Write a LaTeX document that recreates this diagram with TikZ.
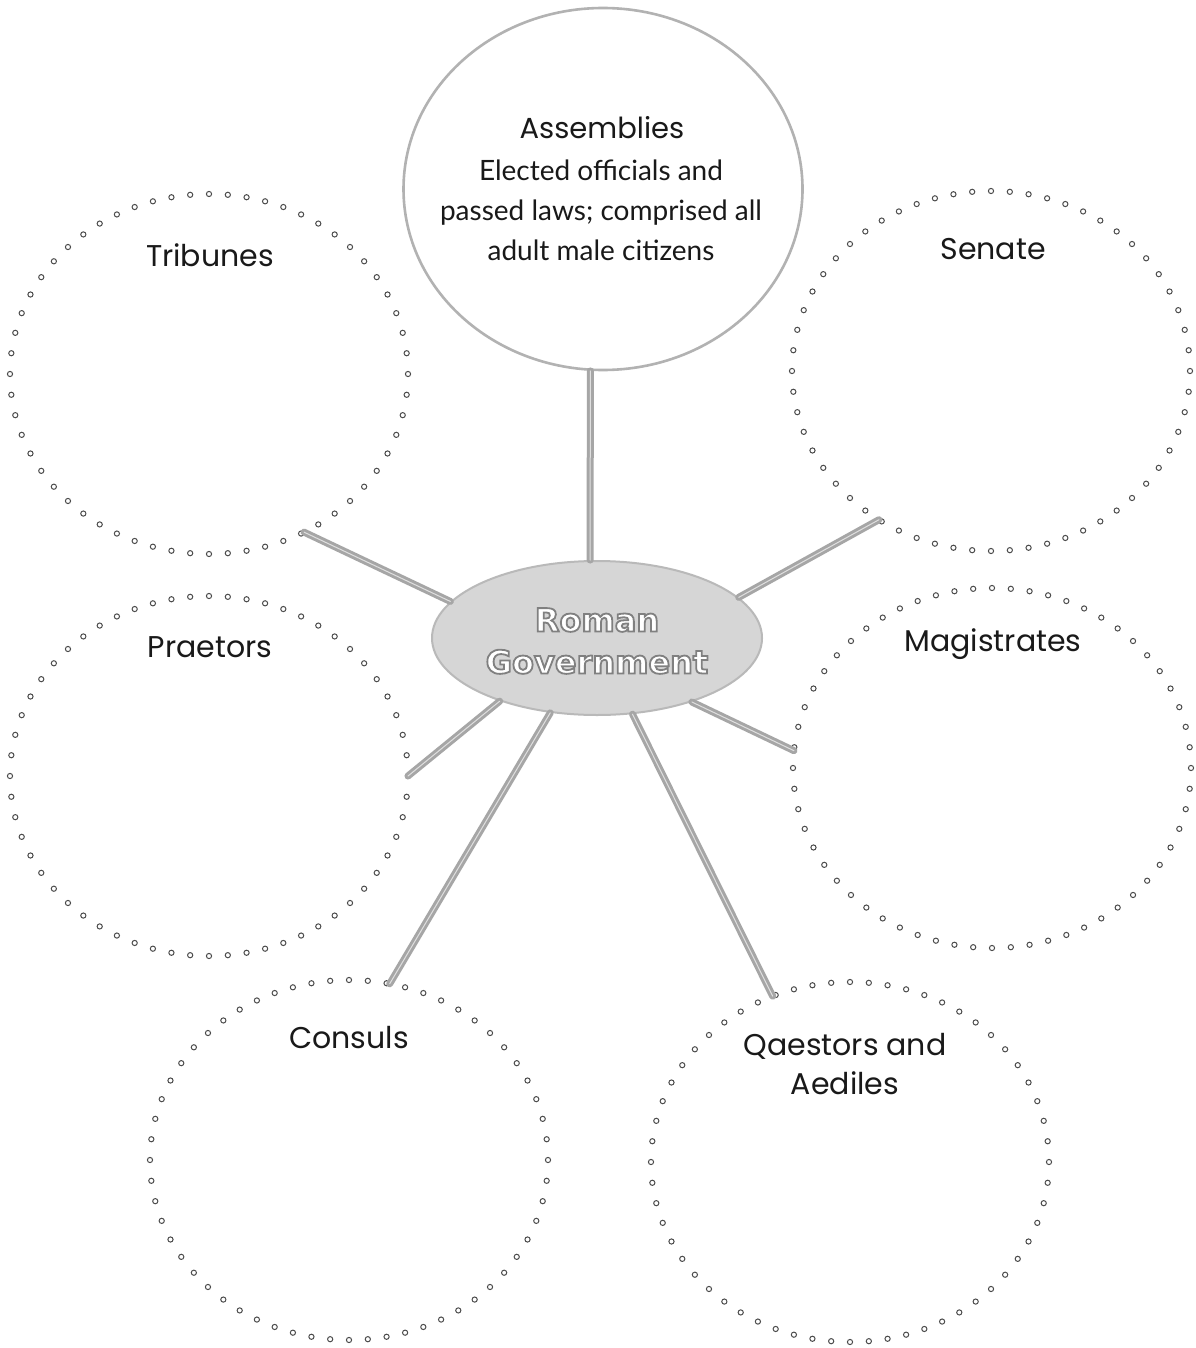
\documentclass[tikz,border=0pt]{standalone}
\usepackage{fontspec}
\setmainfont{Lato}
\newfontfamily\titlefont{Poppins}
\newfontfamily\govfont{DejaVu Sans}
\newcommand\outlinetext[1]{\special{pdf:literal direct 2 Tr 0.9 w 0.5 G}#1\special{pdf:literal direct 0 Tr}}
\usetikzlibrary{shapes.geometric}
\begin{document}
\begin{tikzpicture}[x=0.5pt,y=-0.5pt,
  zone/.style={ellipse, draw=none, inner sep=0pt, outer sep=0pt, minimum width=199pt, minimum height=180pt},
  dotmark/.style={draw=black!70, line width=0.5pt, fill=white},
  link/.style={draw=gray!70, line width=1.5pt, double=gray!25, double distance=0.5pt, line cap=round},
  title/.style={font=\titlefont\fontsize{15}{18}\selectfont, text=black!90, align=center, inner sep=0pt},
  body/.style={font=\fontsize{14}{20}\selectfont, text=black!90, align=center, inner sep=0pt}]
\useasboundingbox (0,0) rectangle (1195,1348);
\fill[white] (0,0) rectangle (1195,1348);
% outer dotted zones
\node[zone] (trib) at (209,374) {};
\node[zone] (sen) at (991,371) {};
\node[zone] (prae) at (209,776) {};
\node[zone] (mag) at (992,768) {};
\node[zone] (cons) at (349,1160) {};
\node[zone] (qae) at (850,1162) {};
\foreach \n in {trib,sen,prae,mag,cons,qae}{
  \foreach \a in {0,6,...,354}{
    \draw[dotmark] (\n.\a) circle[radius=1.3pt];
  }
}
% assemblies and centre
\node[ellipse, draw=gray!60, line width=1.3pt, fill=white, inner sep=0pt, minimum width=199.5pt, minimum height=181pt] (asm) at (603,189) {};
\node[ellipse, fill=gray!32, draw=gray!55, line width=1pt, inner sep=0pt, minimum width=165pt, minimum height=77pt] (gov) at (597,638) {};
% connectors
\draw[link] (asm.266) -- (gov.95);
\draw[link] (trib.301) -- (gov.166);
\draw[link] (sen.233) -- (gov.16);
\draw[link] (prae.0) -- (gov.213);
\draw[link] (mag.175) -- (gov.326);
\draw[link] (cons.77) -- (gov.238);
\draw[link] (qae.115) -- (gov.295);
% texts
\node[title] (tribT) at (210,255) {Tribunes};
\node[title] (senT) at (993,249) {Senate};
\node[title] (praeT) at (210,647) {Praetors};
\node[title] (magT) at (993,644) {Magistrates};
\node[title] (consT) at (349,1038) {Consuls};
\node[title, font=\titlefont\fontsize{15}{19.5}\selectfont] (qaeT) at (845,1064) {Qaestors and\\Aediles};
\node[title, font=\titlefont\fontsize{14.5}{18}\selectfont] (asmT) at (602,128) {Assemblies};
\node[body] (asmB) at (601,210) {Elected officials and\\passed laws; comprised all\\adult male citizens};
\node[font=\govfont\bfseries\fontsize{16}{21}\selectfont, text=white, align=center, inner sep=0pt] (govT) at (597,641) {\outlinetext{Roman}\\\outlinetext{Government}};
\end{tikzpicture}
\end{document}
